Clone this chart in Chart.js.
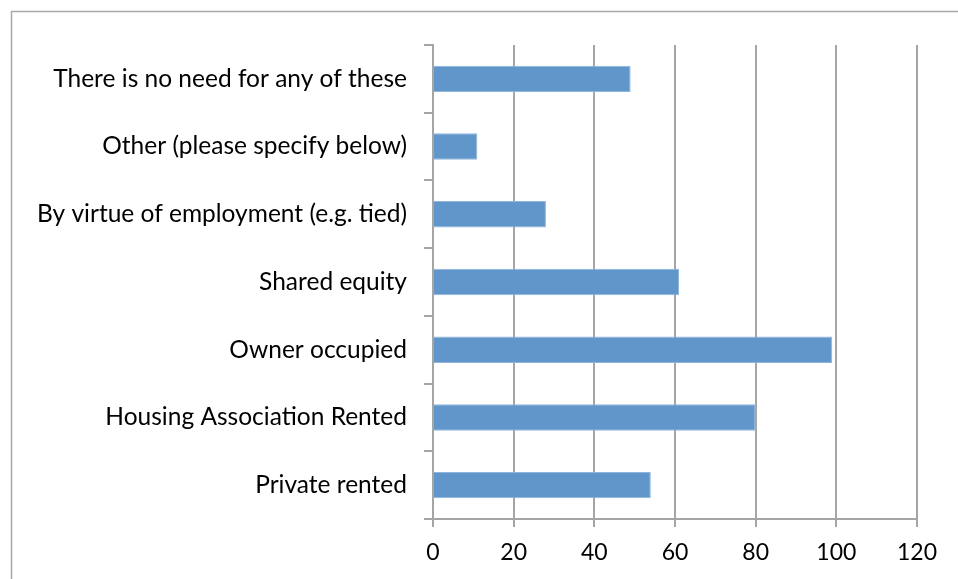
<!DOCTYPE html>
<html>
<head>
<meta charset="utf-8">
<script src="https://cdn.jsdelivr.net/npm/chart.js@4"></script>
<style>
  html, body { margin: 0; padding: 0; background: #fff; overflow: hidden; }
  canvas { display: block; }
</style>
</head>
<body>
<canvas id="barChart" width="958" height="579"></canvas>
<script>
// categories, top to bottom as they appear in the picture
const categories = [
  "There is no need for any of these",
  "Other (please specify below)",
  "By virtue of employment (e.g. tied)",
  "Shared equity",
  "Owner occupied",
  "Housing Association Rented",
  "Private rented"
];
const responses = [49, 11, 28, 61, 99, 80, 54];
const xTicks = [0, 20, 40, 60, 80, 100, 120];

const gridGrey = "#a5a5a5";
const fontFamily = "Lato, 'Open Sans', sans-serif";

// thin grey frame round the chart, like the office export
const framePlugin = {
  id: "frame",
  beforeDraw(chart) {
    const ctx = chart.ctx;
    ctx.save();
    ctx.fillStyle = "#fff";
    ctx.fillRect(0, 0, chart.width, chart.height);
    ctx.strokeStyle = "#a9a9a9";
    ctx.lineWidth = 1.5;
    ctx.strokeRect(11.5, 11.5, chart.width + 20, chart.height + 20);
    ctx.restore();
  }
};

const ctx = document.getElementById("barChart").getContext("2d");
new Chart(ctx, {
  type: "bar",
  data: {
    labels: categories,
    datasets: [{
      data: responses,
      backgroundColor: "#6096c9",
      borderColor: "#8fb5dd",
      borderWidth: 1,
      categoryPercentage: 1,
      barPercentage: 0.39
    }]
  },
  options: {
    indexAxis: "y",
    responsive: false,
    animation: false,
    devicePixelRatio: 1,
    layout: { padding: { top: 45, right: 41, left: 0, bottom: 0 } },
    plugins: {
      legend: { display: false },
      tooltip: { enabled: false },
      title: { display: false }
    },
    scales: {
      x: {
        min: 0,
        max: 120,
        afterBuildTicks: (scale) => { scale.ticks = xTicks.map(v => ({ value: v })); },
        afterFit: (scale) => { scale.height = 60; },
        grid: { color: gridGrey, lineWidth: 2, tickLength: 8, drawTicks: true },
        border: { color: gridGrey, width: 2 },
        ticks: {
          color: "#000",
          padding: 12,
          font: { family: fontFamily, size: 23 }
        }
      },
      y: {
        afterFit: (scale) => { scale.width = 433; },
        grid: { drawOnChartArea: false, drawTicks: true, tickLength: 9, color: gridGrey, lineWidth: 2 },
        border: { color: gridGrey, width: 2 },
        ticks: {
          color: "#000",
          padding: 17,
          font: { family: fontFamily, size: 24.5 }
        }
      }
    }
  },
  plugins: [framePlugin]
});
</script>
</body>
</html>
